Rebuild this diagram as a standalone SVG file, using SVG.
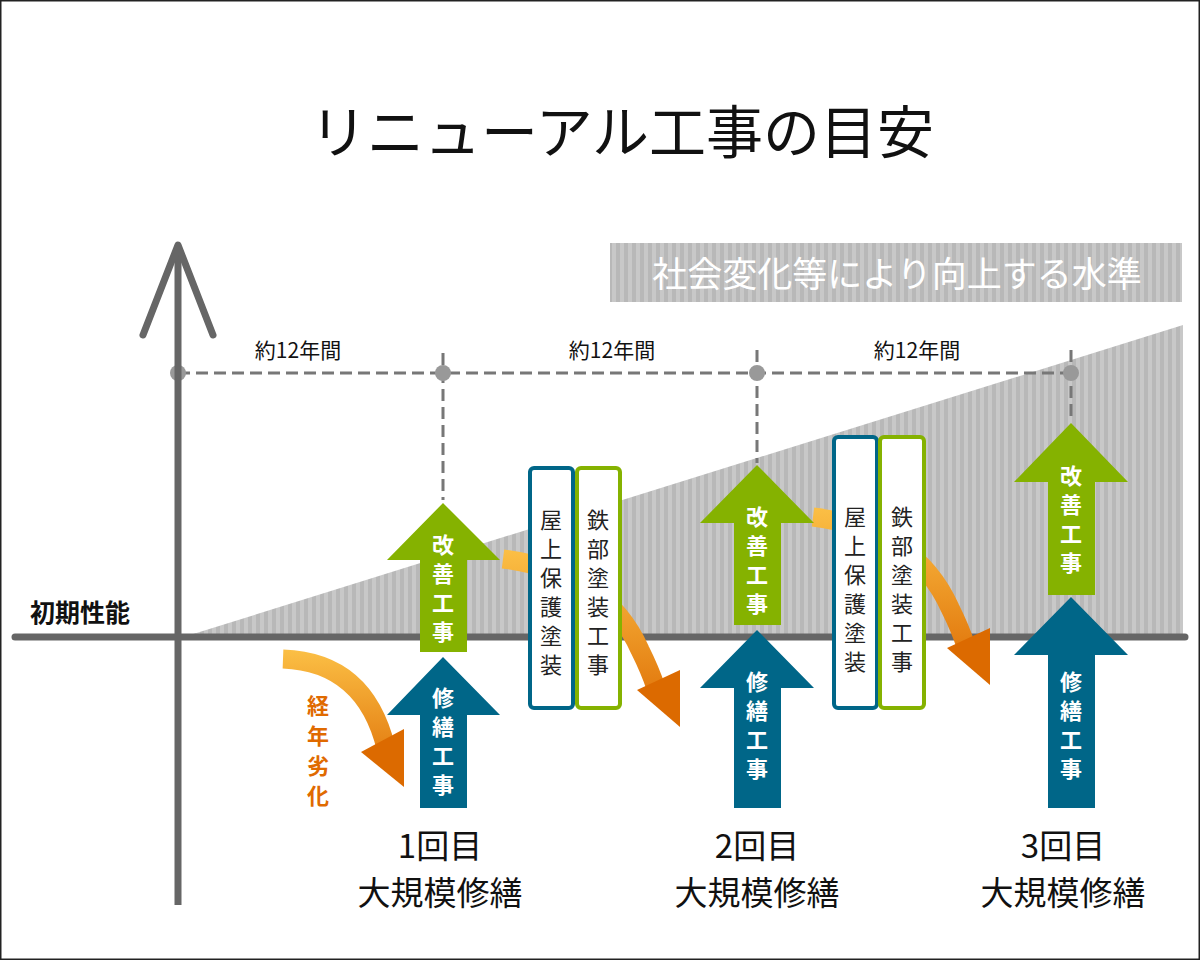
<svg xmlns="http://www.w3.org/2000/svg" width="1200" height="960" viewBox="0 0 1200 960">
<defs>
<pattern id="st" width="8" height="8" patternUnits="userSpaceOnUse"><rect width="8" height="8" fill="#c8c8c8"/><rect width="4" height="8" fill="#b8b8b8"/></pattern>
<linearGradient id="og1" gradientUnits="userSpaceOnUse" x1="0" y1="650" x2="0" y2="790"><stop offset="0" stop-color="#fbbf45"/><stop offset="1" stop-color="#dc6800"/></linearGradient>
<linearGradient id="og2" gradientUnits="userSpaceOnUse" x1="0" y1="550" x2="0" y2="730"><stop offset="0" stop-color="#fbbf45"/><stop offset="1" stop-color="#dc6800"/></linearGradient>
<style>
.t{font-family:"Noto Sans CJK JP","Noto Sans",sans-serif}
.w{fill:#fff;font-weight:bold;font-size:22px;text-anchor:middle}
.g{fill:#85b200}.b{fill:#006688}
.box{fill:#fff;stroke-width:4}
.vt{font-size:22px;fill:#222;text-anchor:middle}
.dash{stroke:#777;stroke-width:3;stroke-dasharray:12,6;fill:none}
</style>
</defs>
<rect x="0" y="0" width="1200" height="960" fill="#fff"/>
<rect x="0.5" y="0.5" width="1199" height="959" fill="none" stroke="#222" stroke-width="2"/>
<text class="t" x="622" y="153" font-size="57" text-anchor="middle" fill="#111">リニューアル工事の目安</text>
<g id="banner"><rect x="610" y="243" width="572" height="59" fill="url(#st)"/>
<text class="t" x="897" y="287" font-size="35" fill="#fff" text-anchor="middle">社会変化等により向上する水準</text></g>
<polygon points="190,635 1183,325 1183,635" fill="url(#st)"/>
<g id="connectors">
<path class="dash" d="M178,373 H1071 M443,353 V500 M757,350 V463 M1071,350 V421"/>
<circle cx="178" cy="373" r="8" fill="#999"/><circle cx="443" cy="373" r="8" fill="#999"/><circle cx="757" cy="373" r="8" fill="#999"/><circle cx="1071" cy="373" r="8" fill="#999"/>
<text class="t" x="298" y="358" font-size="21" text-anchor="middle" fill="#111">約12年間</text>
<text class="t" x="612" y="358" font-size="21" text-anchor="middle" fill="#111">約12年間</text>
<text class="t" x="917" y="358" font-size="21" text-anchor="middle" fill="#111">約12年間</text>
<line x1="15" y1="637" x2="1185" y2="637" stroke="#666" stroke-width="7" stroke-linecap="round"/>
<line x1="178" y1="905" x2="178" y2="248" stroke="#666" stroke-width="7"/>
<polyline points="143,335 178,245 213,335" fill="none" stroke="#666" stroke-width="7" stroke-linecap="round" stroke-linejoin="round"/>
<path d="M283,659 Q365,662 386,748" fill="none" stroke="url(#og1)" stroke-width="19"/>
<polygon points="361,752 404,729 404,787" fill="#dc6a00"/>
<path d="M503,559 Q605,572 640,650 Q650,670 656,688" fill="none" stroke="url(#og2)" stroke-width="19"/>
<polygon points="637,690 680,670 680,727" fill="#dc6a00"/>
<g transform="translate(310,-42)">
<path d="M503,559 Q605,572 640,650 Q650,670 656,688" fill="none" stroke="url(#og2)" stroke-width="19"/>
<polygon points="637,690 680,670 680,727" fill="#dc6a00"/></g>
</g>
<text class="t" x="30" y="622" font-size="25" font-weight="bold" fill="#111">初期性能</text>
<g id="degrade" class="t" font-size="22" font-weight="bold" fill="#e06a00" text-anchor="middle">
<text x="318" y="714">経</text><text x="318" y="744">年</text><text x="318" y="774">劣</text><text x="318" y="804">化</text></g>
<g id="a1g"><polygon class="g" points="443,503 500,560 467,560 467,652 420,652 420,560 387,560"/>
<text class="t w" x="443" y="553">改</text><text class="t w" x="443" y="582">善</text><text class="t w" x="443" y="611">工</text><text class="t w" x="443" y="640">事</text></g>
<g id="a1b"><polygon class="b" points="443,657 500,715 467,715 467,808 420,808 420,715 387,715"/>
<text class="t w" x="443" y="706">修</text><text class="t w" x="443" y="735">繕</text><text class="t w" x="443" y="764">工</text><text class="t w" x="443" y="793">事</text></g>
<g id="a2g"><polygon class="g" points="757,465 814,523 781,523 781,625 734,625 734,523 700,523"/>
<text class="t w" x="757" y="525">改</text><text class="t w" x="757" y="554">善</text><text class="t w" x="757" y="583">工</text><text class="t w" x="757" y="612">事</text></g>
<g id="a2b"><polygon class="b" points="757,630 814,688 781,688 781,808 734,808 734,688 700,688"/>
<text class="t w" x="757" y="690">修</text><text class="t w" x="757" y="719">繕</text><text class="t w" x="757" y="748">工</text><text class="t w" x="757" y="777">事</text></g>
<g id="a3g"><polygon class="g" points="1071,423 1128,482 1095,482 1095,595 1048,595 1048,482 1014,482"/>
<text class="t w" x="1071" y="484">改</text><text class="t w" x="1071" y="513">善</text><text class="t w" x="1071" y="542">工</text><text class="t w" x="1071" y="571">事</text></g>
<g id="a3b"><polygon class="b" points="1071,597 1128,655 1095,655 1095,808 1048,808 1048,655 1014,655"/>
<text class="t w" x="1071" y="690">修</text><text class="t w" x="1071" y="719">繕</text><text class="t w" x="1071" y="748">工</text><text class="t w" x="1071" y="777">事</text></g>
<g id="box1"><rect class="box" x="530" y="468" width="43" height="240" rx="4" stroke="#006688"/>
<text class="t vt" x="551" y="528">屋</text><text class="t vt" x="551" y="557">上</text><text class="t vt" x="551" y="586">保</text><text class="t vt" x="551" y="615">護</text><text class="t vt" x="551" y="644">塗</text><text class="t vt" x="551" y="673">装</text></g>
<g id="box2"><rect class="box" x="577" y="468" width="43" height="240" rx="4" stroke="#85b200"/>
<text class="t vt" x="598" y="528">鉄</text><text class="t vt" x="598" y="557">部</text><text class="t vt" x="598" y="586">塗</text><text class="t vt" x="598" y="615">装</text><text class="t vt" x="598" y="644">工</text><text class="t vt" x="598" y="673">事</text></g>
<g id="box3"><rect class="box" x="834" y="437" width="43" height="271" rx="4" stroke="#006688"/>
<text class="t vt" x="855" y="525">屋</text><text class="t vt" x="855" y="554">上</text><text class="t vt" x="855" y="583">保</text><text class="t vt" x="855" y="612">護</text><text class="t vt" x="855" y="641">塗</text><text class="t vt" x="855" y="670">装</text></g>
<g id="box4"><rect class="box" x="880" y="437" width="44" height="271" rx="4" stroke="#85b200"/>
<text class="t vt" x="902" y="525">鉄</text><text class="t vt" x="902" y="554">部</text><text class="t vt" x="902" y="583">塗</text><text class="t vt" x="902" y="612">装</text><text class="t vt" x="902" y="641">工</text><text class="t vt" x="902" y="670">事</text></g>
<g id="labels" class="t" font-size="33" fill="#111" text-anchor="middle">
<text x="440" y="858">1回目</text><text x="440" y="905">大規模修繕</text>
<text x="757" y="858">2回目</text><text x="757" y="905">大規模修繕</text>
<text x="1063" y="858">3回目</text><text x="1063" y="905">大規模修繕</text></g>
</svg>
